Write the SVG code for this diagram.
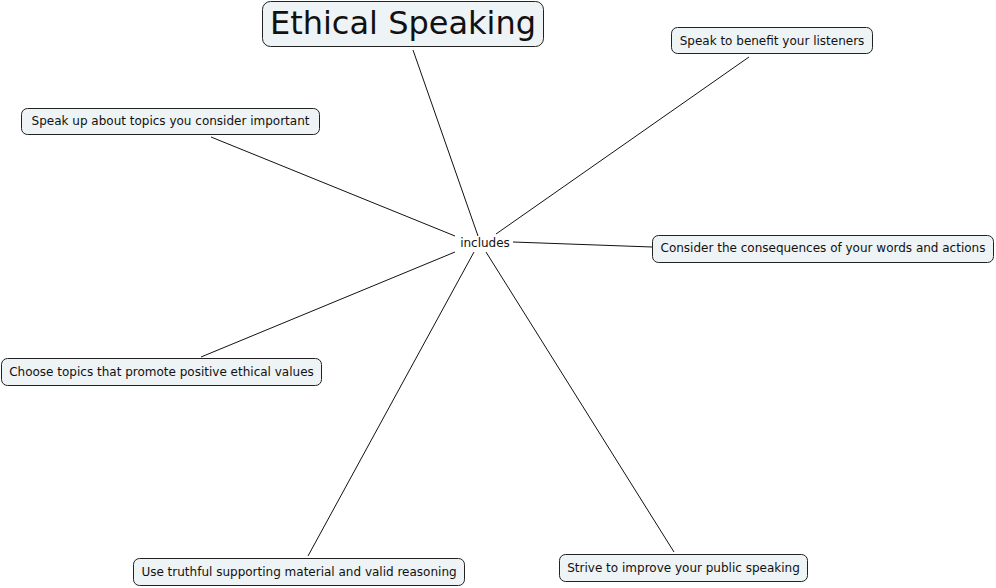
<svg xmlns="http://www.w3.org/2000/svg" width="996" height="588" viewBox="0 0 996 588">
<style>
.box{fill:#eef3f5;stroke:#222;stroke-width:1}
.t{font-family:"DejaVu Sans",Verdana,sans-serif;font-size:12px;fill:#111}
.title{font-family:"DejaVu Sans",Verdana,sans-serif;font-size:32px;fill:#111}
.c line{stroke:#111;stroke-width:1}
</style>
<rect width="996" height="588" fill="#fff"/>
<g class="c" id="connectors">
<line x1="413" y1="50" x2="478" y2="236"/>
<line x1="749" y1="57" x2="496" y2="234"/>
<line x1="211" y1="137" x2="455" y2="236"/>
<line x1="513" y1="242" x2="652" y2="247"/>
<line x1="201" y1="357" x2="455" y2="252"/>
<line x1="308" y1="556" x2="474" y2="252"/>
<line x1="674" y1="552" x2="486" y2="252"/>
</g>
<g id="title"><rect class="box" x="262.5" y="1.5" width="281" height="45" rx="8"/><text class="title" x="403" y="34" text-anchor="middle">Ethical Speaking</text></g>
<g id="benefit"><rect class="box" x="671.5" y="27.5" width="201" height="26" rx="6"/><text class="t" x="772" y="45" text-anchor="middle">Speak to benefit your listeners</text></g>
<g id="speakup"><rect class="box" x="21.5" y="108.5" width="298" height="26" rx="6"/><text class="t" x="170.5" y="125" text-anchor="middle">Speak up about topics you consider important</text></g>
<g id="includes"><text class="t" x="485" y="247" text-anchor="middle">includes</text></g>
<g id="consider"><rect class="box" x="652.5" y="235.5" width="341" height="27" rx="6"/><text class="t" x="823" y="252" text-anchor="middle">Consider the consequences of your words and actions</text></g>
<g id="choose"><rect class="box" x="1.5" y="358.5" width="320" height="27" rx="6"/><text class="t" x="161.5" y="376" text-anchor="middle">Choose topics that promote positive ethical values</text></g>
<g id="truthful"><rect class="box" x="133.5" y="558.5" width="331" height="27" rx="6"/><text class="t" x="299" y="576" text-anchor="middle">Use truthful supporting material and valid reasoning</text></g>
<g id="strive"><rect class="box" x="559.5" y="554.5" width="248" height="27" rx="6"/><text class="t" x="683.5" y="572" text-anchor="middle">Strive to improve your public speaking</text></g>
</svg>
